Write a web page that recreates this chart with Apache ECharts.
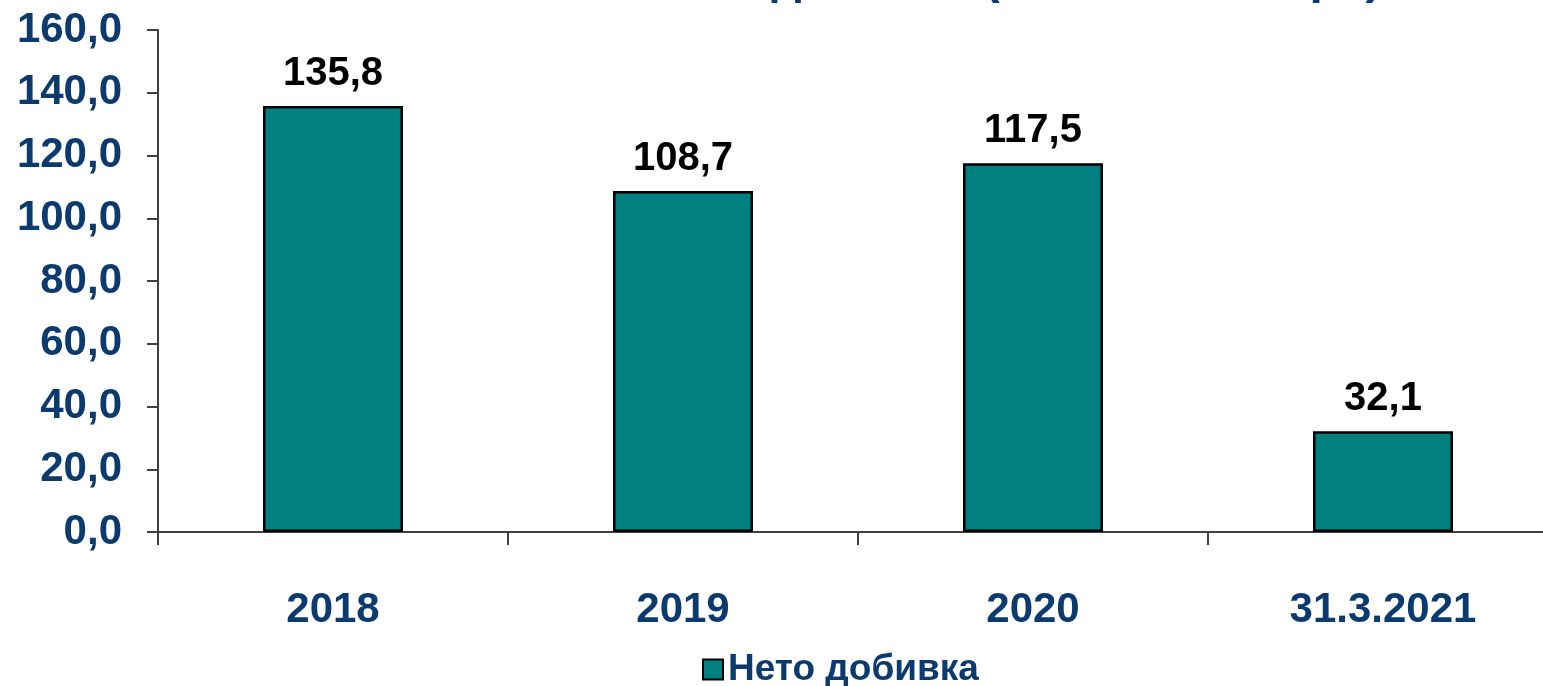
<!DOCTYPE html>
<html>
<head>
<meta charset="utf-8">
<script src="https://cdn.jsdelivr.net/npm/echarts@6/dist/echarts.min.js"></script>
<style>
  html, body { margin: 0; padding: 0; background: #fff; }
  #main { width: 1543px; height: 686px; }
</style>
</head>
<body>
<div id="main"></div>
<script>
    // данни
    var categories = ['2018', '2019', '2020', '31.3.2021'];
    var netProduction = [135.8, 108.7, 117.5, 32.1];
    var seriesName = 'Нето добивка';
    var titleText = 'Нето добивка (милиони литра)';

    var navy = '#0b3a6e';
    var font = 'Liberation Sans, Arial, sans-serif';

    var myChart = echarts.init(document.getElementById('main'));

    var option = {
        animation: false,
        backgroundColor: '#fff',
        title: {
            text: titleText,
            left: 640,
            top: -49,
            textStyle: { color: navy, fontFamily: font, fontWeight: 'bold', fontSize: 48 }
        },
        legend: {
            data: [seriesName],
            top: 646,
            left: 697,
            icon: 'rect',
            itemWidth: 20,
            itemHeight: 20,
            itemGap: 6,
            textStyle: { color: navy, fontFamily: font, fontWeight: 'bold', fontSize: 37 }
        },
        grid: {
            left: 158,
            width: 1400,
            top: 30,
            height: 502,
            outerBoundsMode: 'none',
            containLabel: false
        },
        xAxis: {
            type: 'category',
            data: categories,
            axisLine: { lineStyle: { color: '#404040', width: 2 } },
            axisTick: { show: true, length: 13, lineStyle: { color: '#404040', width: 2 } },
            axisLabel: { color: navy, fontFamily: font, fontWeight: 'bold', fontSize: 42, margin: 57 }
        },
        yAxis: {
            type: 'value',
            min: 0,
            max: 160,
            interval: 20,
            splitLine: { show: false },
            axisLine: { show: true, lineStyle: { color: '#404040', width: 2 } },
            axisTick: { show: true, length: 11, lineStyle: { color: '#404040', width: 2 } },
            axisLabel: {
                color: navy, fontFamily: font, fontWeight: 'bold', fontSize: 42, margin: 36,
                formatter: function (v) { return v.toFixed(1).replace('.', ','); }
            }
        },
        series: [{
            name: seriesName,
            type: 'bar',
            data: netProduction,
            barWidth: '40%',
            itemStyle: { color: '#008080', borderColor: '#000', borderWidth: 2.5 },
            label: {
                show: true,
                position: 'top',
                distance: 12,
                color: '#000',
                fontFamily: font,
                fontWeight: 'bold',
                fontSize: 40,
                formatter: function (p) { return p.value.toFixed(1).replace('.', ','); }
            }
        }]
    };
    myChart.setOption(option);
</script>
</body>
</html>
